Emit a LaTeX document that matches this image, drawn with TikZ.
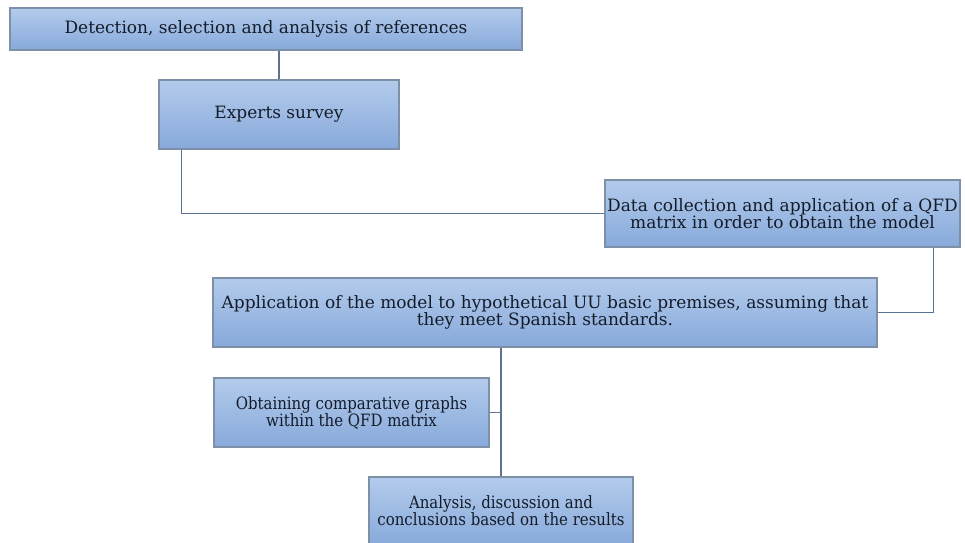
\documentclass[tikz,border=0pt]{standalone}
\usepackage{fontspec}
\setmainfont{DejaVu Serif}
\newfontfamily\narrowserif[FakeStretch=0.88]{DejaVu Serif}
\usetikzlibrary{calc}
\definecolor{boxtop}{HTML}{B3CBEC}
\definecolor{boxbot}{HTML}{87A9DA}
\definecolor{boxline}{HTML}{7E8FA8}
\definecolor{conn}{HTML}{5A7391}
\definecolor{txt}{HTML}{141C2A}
\tikzset{
  stepbox/.style={draw=boxline, line width=1.2pt, top color=boxtop, bottom color=boxbot,
    text=txt, align=center, inner sep=1pt,
    font=\fontsize{17}{17}\selectfont},
  narrowbox/.style={stepbox, font=\narrowserif\fontsize{17}{17}\selectfont},
  link/.style={draw=conn, line width=1.6pt}
}
\begin{document}
\begin{tikzpicture}[x=1pt,y=-1pt]
\useasboundingbox (0,0) rectangle (965,542);
\node[stepbox, minimum width=512pt, minimum height=42pt] (b1) at (266,29) {Detection, selection and analysis of references};
\node[stepbox, minimum width=240pt, minimum height=69pt] (b2) at (279,114.5) {Experts survey};
\node[stepbox, minimum width=355pt, minimum height=67pt] (b3) at (782.5,213.5) {Data collection and application of a QFD\\matrix in order to obtain the model};
\node[stepbox, minimum width=664pt, minimum height=69pt] (b4) at (545,312.5) {Application of the model to hypothetical UU basic premises, assuming that\\they meet Spanish standards.};
\node[narrowbox, minimum width=275pt, minimum height=69pt] (b5) at (351.5,412.5) {Obtaining comparative graphs\\within the QFD matrix};
\node[narrowbox, minimum width=264pt, minimum height=68pt] (b6) at (501,511) {Analysis, discussion and\\conclusions based on the results};
\coordinate (c2) at ($(b2.south west)+(23,0)$);
\coordinate (c3) at ($(b3.south east)+(-27,0)$);
\draw[link] (b2.north) -- (b2.north |- b1.south);
\draw[link] (c2) |- (b3.west);
\draw[link] (c3) |- (b4.east);
\draw[link] (b6.north) -- (b6.north |- b4.south);
\draw[link] (b5.east) -- (b5.east -| b6.north);
\end{tikzpicture}
\end{document}
